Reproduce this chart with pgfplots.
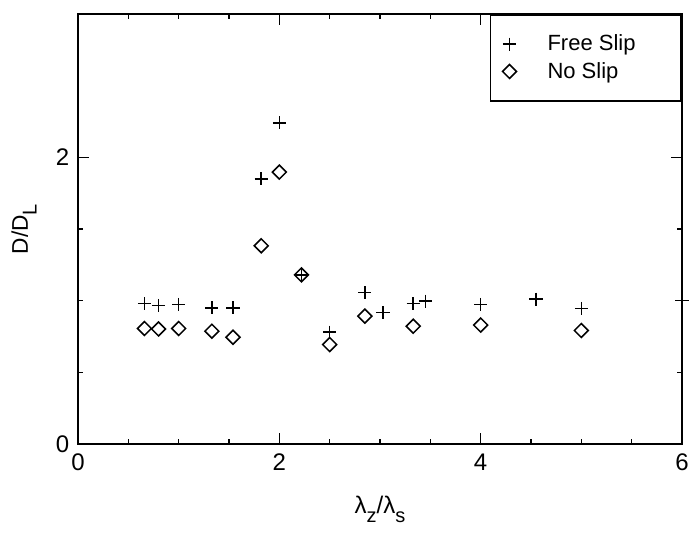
\documentclass[border=0pt]{standalone}
\usepackage{fontspec}
\setmainfont{Liberation Sans}
\usepackage{pgfplots}
\pgfplotsset{compat=1.18}
\begin{document}
\begin{tikzpicture}
\begin{axis}[
  scale only axis, width=453pt, height=322.5pt,
  xmin=0, xmax=6, ymin=0, ymax=3,
  xtick={0,2,4,6}, ytick={0,2},
  minor x tick num=3, minor y tick num=3,
  tick align=inside,
  major tick length=8pt, minor tick length=3.6pt,
  every tick/.style={black, line width=1pt},
  axis line style={line width=1.2pt},
  clip=false,
  /pgf/number format/assume math mode=true,
  ticklabel style={font=\fontsize{18}{20}\selectfont},
  xticklabel style={yshift=-4pt},
  yticklabel style={xshift=-3pt},
  xlabel={λ\raisebox{-7pt}{\fontsize{15}{17}\selectfont z}/λ\raisebox{-7pt}{\fontsize{15}{17}\selectfont s}},
  xlabel style={at={(axis description cs:0.5,-0.1605)}, anchor=base, font=\fontsize{18}{20}\selectfont},
  ylabel={D/D\raisebox{-6.5pt}{\fontsize{15}{17}\selectfont L}},
  ylabel style={at={(axis description cs:-0.0828,0.5)}, anchor=base, rotate=0, font=\fontsize{17}{19}\selectfont},
  legend cell align=left,
  legend image code/.code={\path[draw=none,fill=none] (-8pt,-5pt) rectangle (8pt,5pt); \draw[#1] plot coordinates {(0pt,0pt)};},
  legend style={at={(1,1)}, anchor=north east, draw=black, line width=1.2pt,
    inner xsep=6.25pt, inner ysep=17pt, row sep=10.25pt, column sep=20.5pt,
    nodes={inner sep=0pt, text height=10pt, text depth=0pt, font=\fontsize{16.5}{18}\selectfont}},
]
\path (rel axis cs:-0.1291,-0.2070) rectangle (rel axis cs:1.0232,1.0326);
\addplot[only marks, mark=+, mark size=4.9pt, line width=1.15pt] coordinates {
(0.66,0.98) (0.80,0.967) (1.0,0.974) (1.33,0.95) (1.54,0.95)
(1.82,1.85) (2.0,2.24) (2.22,1.18) (2.50,0.78) (2.85,1.056)
(3.03,0.916) (3.33,0.979) (3.45,0.997) (4.0,0.974) (4.55,1.01)
(5.0,0.946) (6.0,1.0)
};
\addlegendentry{\makebox[94pt][l]{Free Slip}}
\addplot[only marks, mark=square, mark size=3.7pt, mark options={rotate=45}, line width=1.15pt] coordinates {
(0.66,0.806) (0.80,0.803) (1.0,0.806) (1.33,0.787) (1.54,0.745)
(1.82,1.383) (2.0,1.897) (2.22,1.18) (2.50,0.694) (2.85,0.892)
(3.33,0.822) (4.0,0.83) (5.0,0.792)
};
\addlegendentry{\makebox[94pt][l]{No Slip}}
\end{axis}
\end{tikzpicture}
\end{document}
